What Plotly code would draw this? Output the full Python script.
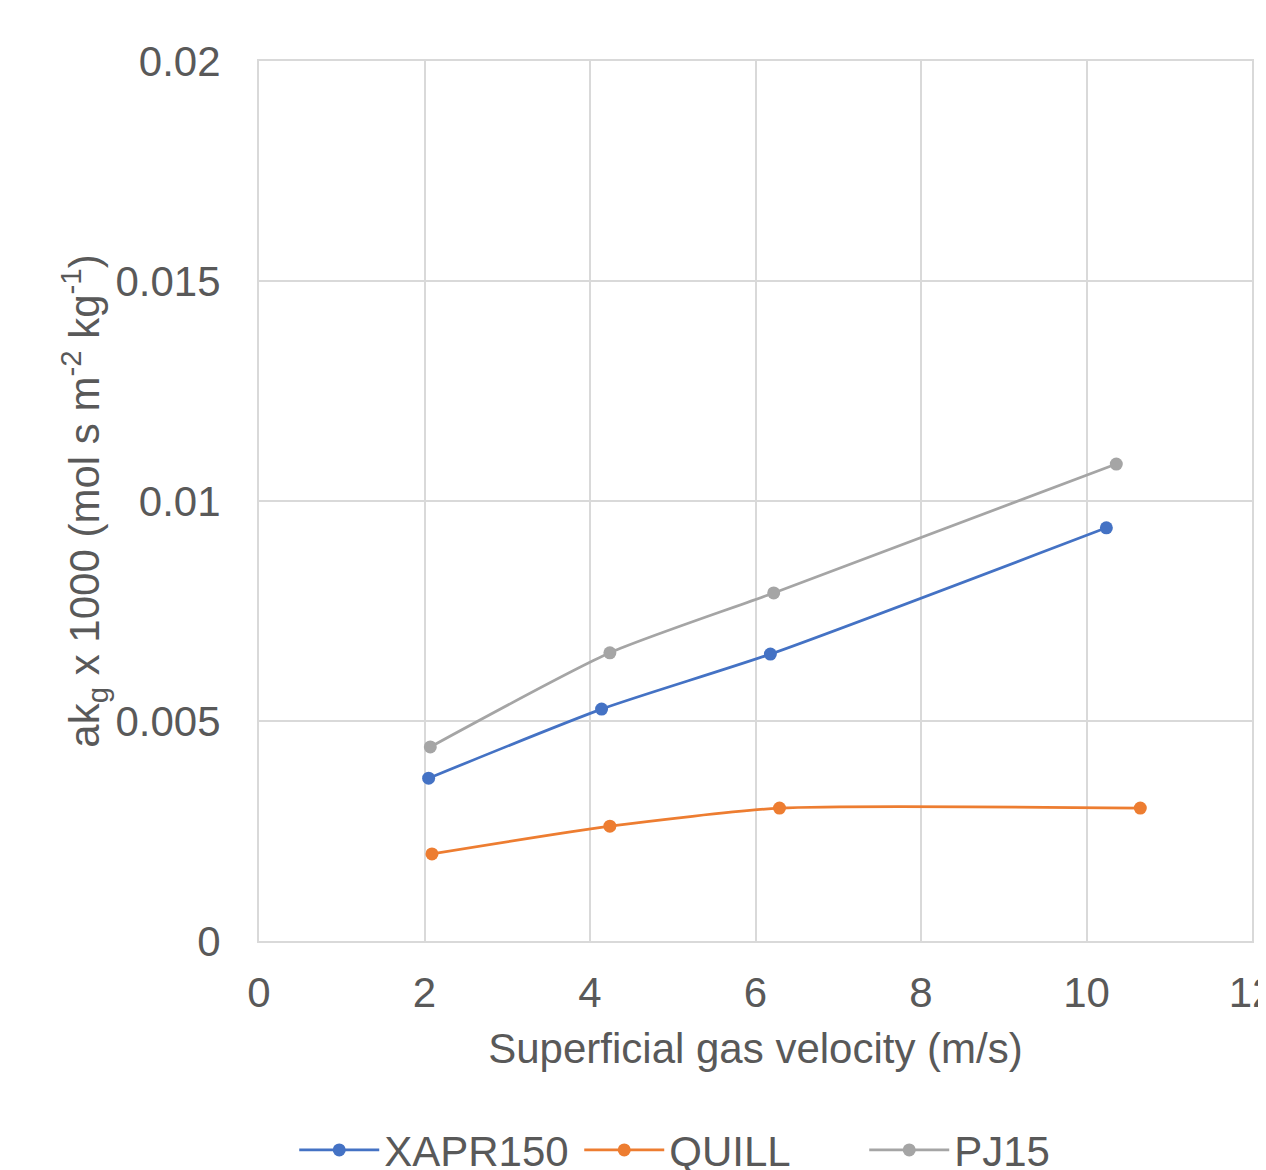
import plotly.graph_objects as go

series_names = ["XAPR150", "QUILL", "PJ15"]
xapr_x = [2.05, 4.14, 6.18, 10.24]
xapr_y = [0.00370, 0.00527, 0.00652, 0.00939]
quill_x = [2.09, 4.24, 6.29, 10.65]
quill_y = [0.00198, 0.00261, 0.00302, 0.00302]
pj_x = [2.07, 4.24, 6.22, 10.36]
pj_y = [0.00441, 0.00655, 0.00791, 0.01084]
colors = ["#4472C4", "#ED7D31", "#A5A5A5"]

x_ticks = [0, 2, 4, 6, 8, 10, 12]
y_ticks = [0, 0.005, 0.01, 0.015, 0.02]
y_ticktext = ["0", "0.005", "0.01", "0.015", "0.02"]

fig = go.Figure()
for name, xs, ys, c in zip(series_names, [xapr_x, quill_x, pj_x], [xapr_y, quill_y, pj_y], colors):
    fig.add_trace(go.Scatter(
        x=xs, y=ys, name=name, mode="lines+markers",
        line=dict(color=c, width=2.75, shape="spline", smoothing=0.6),
        marker=dict(color=c, size=13),
    ))

font = "Liberation Sans, Arial, sans-serif"
txt = "#595959"
grid = "#d9d9d9"
fs = 42
fig.update_layout(
    width=1266, height=1170,
    margin=dict(l=251, r=22, t=53, b=237, autoexpand=False),
    paper_bgcolor="white", plot_bgcolor="white",
    font=dict(family=font, size=fs, color=txt),
    showlegend=True,
    legend=dict(orientation="h", x=0.466, xanchor="center", y=-0.199, yanchor="top",
                font=dict(size=fs, color=txt), tracegroupgap=0, itemwidth=80,
                entrywidth=190, entrywidthmode="pixels"),
    xaxis=dict(range=[0, 12], tickvals=x_ticks, showgrid=True, gridcolor=grid, gridwidth=2,
               showline=True, linecolor=grid, linewidth=2, mirror=True, zeroline=False,
               ticks="", ticklabelstandoff=14, ticklabeloverflow="allow", automargin=False,
               title=dict(text="Superficial gas velocity (m/s)", standoff=18, font=dict(size=fs, color=txt))),
    yaxis=dict(range=[0, 0.02], tickvals=y_ticks, ticktext=y_ticktext, showgrid=True, gridcolor=grid, gridwidth=2,
               showline=True, linecolor=grid, linewidth=2, mirror=True, zeroline=False,
               ticks="", ticklabelstandoff=28, automargin=False,
               title=dict(text="ak<sub>g</sub> x 1000 (mol s m<sup>-2</sup> kg<sup>-1</sup>)", standoff=3,
                          font=dict(size=fs, color=txt))),
)
fig.write_html("out.html")
